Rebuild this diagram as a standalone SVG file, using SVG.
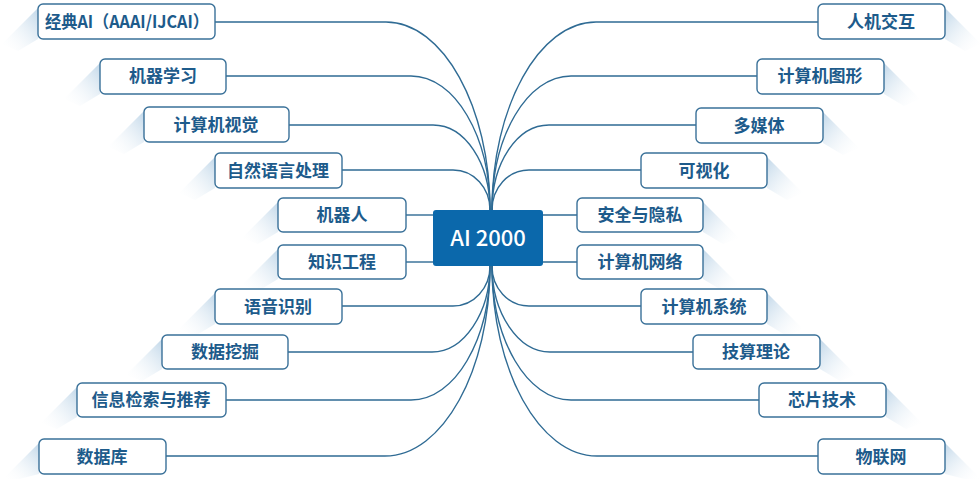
<svg xmlns="http://www.w3.org/2000/svg" width="980" height="479" viewBox="0 0 980 479">
<defs>
<linearGradient id="shL" x1="1" y1="0" x2="0" y2="1">
<stop offset="0" stop-color="#b9d2e6" stop-opacity="0.9"/>
<stop offset="1" stop-color="#ffffff" stop-opacity="0"/>
</linearGradient>
<linearGradient id="shR" x1="0" y1="0" x2="1" y2="1">
<stop offset="0" stop-color="#b9d2e6" stop-opacity="0.9"/>
<stop offset="1" stop-color="#ffffff" stop-opacity="0"/>
</linearGradient>
</defs>
<style>
.box{fill:#ffffff;stroke:#3a7199;stroke-width:1.4}
.lbl{font-family:"Noto Sans CJK SC","Noto Sans",sans-serif;font-weight:bold;font-size:17px;fill:#1d5b8b;text-anchor:middle}
.shL{fill:url(#shL)}
.shR{fill:url(#shR)}
.con{fill:none;stroke:#2f6b94;stroke-width:1.4}
.hub{fill:#0b68ab}
.hubt{font-family:"Noto Sans CJK SC","Noto Sans",sans-serif;font-weight:500;font-size:22px;fill:#ffffff;text-anchor:middle}
</style>
<rect width="980" height="479" fill="#ffffff"/>

<g id="shadows">
<polygon class="shL" points="38,8 2,44 18,51 38,39"/>
<polygon class="shL" points="100,63 64,99 80,106 100,94"/>
<polygon class="shL" points="144,111 108,147 124,154 144,142"/>
<polygon class="shL" points="215,157 179,193 195,200 215,188"/>
<polygon class="shL" points="278,202 242,238 258,244 278,232"/>
<polygon class="shL" points="278,249 242,285 258,291 278,279"/>
<polygon class="shL" points="215,293 179,329 195,336 215,324"/>
<polygon class="shL" points="162,339 126,375 142,381 162,369"/>
<polygon class="shL" points="77,387 41,423 57,429 77,417"/>
<polygon class="shL" points="39,443 3,479 19,479 39,474"/>
<polygon class="shR" points="945,8 981,44 965,51 945,39"/>
<polygon class="shR" points="884,63 920,99 904,106 884,94"/>
<polygon class="shR" points="823,112 859,148 843,155 823,143"/>
<polygon class="shR" points="767,157 803,193 787,200 767,188"/>
<polygon class="shR" points="703,202 739,238 723,244 703,232"/>
<polygon class="shR" points="703,249 739,285 723,291 703,279"/>
<polygon class="shR" points="767,293 803,329 787,336 767,324"/>
<polygon class="shR" points="820,339 856,375 840,381 820,369"/>
<polygon class="shR" points="886,387 922,423 906,429 886,417"/>
<polygon class="shR" points="945,443 981,479 965,479 945,474"/>
</g>

<g id="connectors">
<path class="con" d="M215,22 H386 C443,22 490,107 490,210"/>
<path class="con" d="M226,76 H411 C455,76 490,136 490,210"/>
<path class="con" d="M289,125 H433 C465,125 490,163 490,210"/>
<path class="con" d="M342,170 H453 C474,170 490,188 490,210"/>
<path class="con" d="M406,215 H433"/>
<path class="con" d="M406,262 H433"/>
<path class="con" d="M342,306 H453 C474,306 490,288 490,266"/>
<path class="con" d="M288,352 H432 C464,352 490,313 490,266"/>
<path class="con" d="M226,400 H411 C455,400 490,340 490,266"/>
<path class="con" d="M166,456 H385 C443,456 490,370 490,266"/>
<path class="con" d="M818,22 H596 C539,22 492,107 492,210"/>
<path class="con" d="M757,76 H571 C527,76 492,136 492,210"/>
<path class="con" d="M696,125 H549 C517,125 492,163 492,210"/>
<path class="con" d="M641,170 H529 C508,170 492,188 492,210"/>
<path class="con" d="M577,215 H543"/>
<path class="con" d="M577,262 H543"/>
<path class="con" d="M641,306 H529 C508,306 492,288 492,266"/>
<path class="con" d="M693,352 H550 C518,352 492,313 492,266"/>
<path class="con" d="M759,400 H571 C527,400 492,340 492,266"/>
<path class="con" d="M818,456 H597 C539,456 492,370 492,266"/>
</g>

<g id="hub">
<rect class="hub" x="433" y="210" width="110" height="56" rx="3"/>
<text class="hubt" x="488" y="246">AI 2000</text>
</g>

<g id="n-classic-ai"><rect class="box" x="38" y="4" width="177" height="35" rx="5"/><text class="lbl" x="127" y="28" textLength="164" lengthAdjust="spacingAndGlyphs">经典AI（AAAI/IJCAI）</text></g>
<g id="n-ml"><rect class="box" x="100" y="59" width="126" height="35" rx="5"/><text class="lbl" x="163" y="82">机器学习</text></g>
<g id="n-cv"><rect class="box" x="144" y="107" width="145" height="35" rx="5"/><text class="lbl" x="216" y="131">计算机视觉</text></g>
<g id="n-nlp"><rect class="box" x="215" y="153" width="127" height="35" rx="5"/><text class="lbl" x="278" y="177">自然语言处理</text></g>
<g id="n-robot"><rect class="box" x="278" y="198" width="128" height="34" rx="5"/><text class="lbl" x="342" y="221">机器人</text></g>
<g id="n-ke"><rect class="box" x="278" y="245" width="128" height="34" rx="5"/><text class="lbl" x="342" y="268">知识工程</text></g>
<g id="n-speech"><rect class="box" x="215" y="289" width="127" height="35" rx="5"/><text class="lbl" x="278" y="313">语音识别</text></g>
<g id="n-dm"><rect class="box" x="162" y="335" width="126" height="34" rx="5"/><text class="lbl" x="225" y="358">数据挖掘</text></g>
<g id="n-ir"><rect class="box" x="77" y="383" width="149" height="34" rx="5"/><text class="lbl" x="151" y="406">信息检索与推荐</text></g>
<g id="n-db"><rect class="box" x="39" y="439" width="127" height="35" rx="5"/><text class="lbl" x="102" y="463">数据库</text></g>

<g id="r-hci"><rect class="box" x="818" y="4" width="127" height="35" rx="5"/><text class="lbl" x="881" y="28">人机交互</text></g>
<g id="r-graphics"><rect class="box" x="757" y="59" width="127" height="35" rx="5"/><text class="lbl" x="820" y="82">计算机图形</text></g>
<g id="r-mm"><rect class="box" x="696" y="108" width="127" height="35" rx="5"/><text class="lbl" x="759" y="132">多媒体</text></g>
<g id="r-vis"><rect class="box" x="641" y="153" width="126" height="35" rx="5"/><text class="lbl" x="704" y="177">可视化</text></g>
<g id="r-sec"><rect class="box" x="577" y="198" width="126" height="34" rx="5"/><text class="lbl" x="640" y="221">安全与隐私</text></g>
<g id="r-net"><rect class="box" x="577" y="245" width="126" height="34" rx="5"/><text class="lbl" x="640" y="268">计算机网络</text></g>
<g id="r-sys"><rect class="box" x="641" y="289" width="126" height="35" rx="5"/><text class="lbl" x="704" y="313">计算机系统</text></g>
<g id="r-theory"><rect class="box" x="693" y="335" width="127" height="34" rx="5"/><text class="lbl" x="756" y="358">技算理论</text></g>
<g id="r-chip"><rect class="box" x="759" y="383" width="127" height="34" rx="5"/><text class="lbl" x="822" y="406">芯片技术</text></g>
<g id="r-iot"><rect class="box" x="818" y="439" width="127" height="35" rx="5"/><text class="lbl" x="881" y="463">物联网</text></g>
</svg>
